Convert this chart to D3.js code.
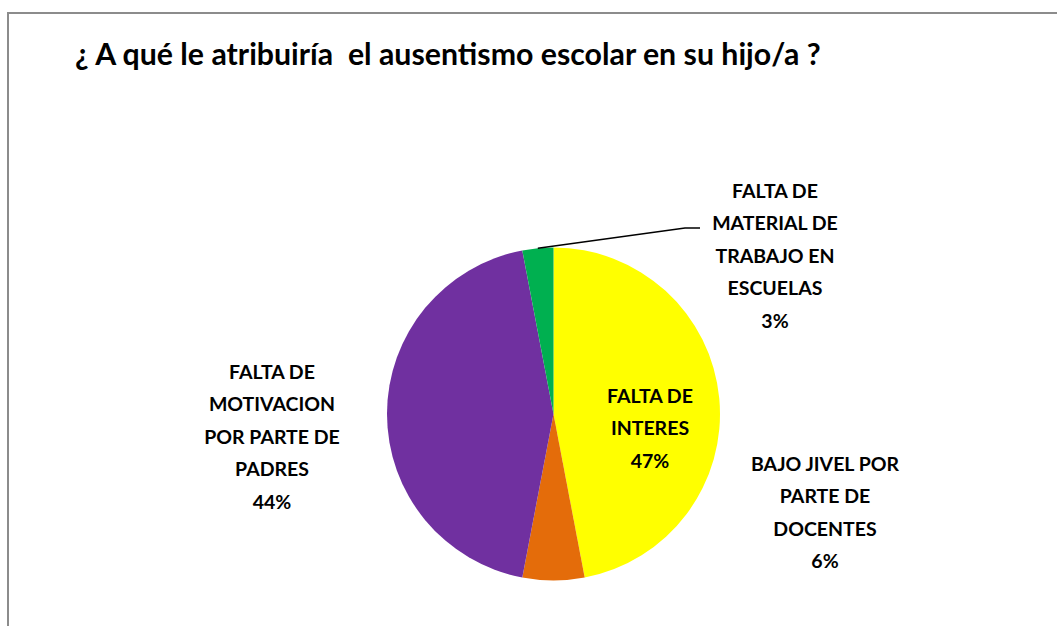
<!DOCTYPE html>
<html>
<head>
<meta charset="utf-8">
<script src="https://cdn.jsdelivr.net/npm/d3@7"></script>
<style>
  body { margin: 0; background: #fff; }
  text { font-family: Lato, "Liberation Sans", sans-serif; font-weight: bold; fill: #000; }
</style>
</head>
<body>
<svg id="chart" width="1057" height="626"></svg>
<script>
// data
const title = '¿ A qué le atribuiría  el ausentismo escolar en su hijo/a ?';
const categories = [
    ['FALTA DE', 'INTERES'],
    ['BAJO JIVEL POR', 'PARTE DE', 'DOCENTES'],
    ['FALTA DE', 'MOTIVACION', 'POR PARTE DE', 'PADRES'],
    ['FALTA DE', 'MATERIAL DE', 'TRABAJO EN', 'ESCUELAS']
];
const values = [47, 6, 44, 3];
const colors = ['#FFFF00', '#E46C0A', '#7030A0', '#00B050'];

// layout
const cx = 553.5;
const cy = 414;
const radius = 166.5;
const lineH = 32.5;
// label block centres (x, y of first line)
const labelPos = [[650, 396], [825, 464], [272, 372], [775, 191]];

const svg = d3.select('#chart');

// chart frame (runs off the right / bottom edge)
svg.append('rect')
    .attr('x', 8)
    .attr('y', 13)
    .attr('width', 1100)
    .attr('height', 700)
    .attr('fill', 'none')
    .attr('stroke', '#8c8c8c')
    .attr('stroke-width', 2);

svg.append('text')
    .attr('x', 75)
    .attr('y', 65)
    .style('font-size', '30.3px')
    .style('white-space', 'pre')
    .text(title);

const pie = d3.pie().sort(null).value((d) => d);
const arc = d3.arc().innerRadius(0).outerRadius(radius);
const arcs = pie(values);

const g = svg.append('g').attr('transform', `translate(${cx},${cy})`);
g.selectAll('path')
    .data(arcs)
    .enter()
    .append('path')
    .attr('d', arc)
    .attr('fill', (d, i) => colors[i]);

// leader line for the small green slice
const green = arcs[3];
const mid = (green.startAngle + green.endAngle) / 2;
const p0 = [cx + radius * Math.sin(mid), cy - radius * Math.cos(mid)];
svg.append('polyline')
    .attr('points', [p0, [685, 228], [700, 228]].map((p) => p.join(',')).join(' '))
    .attr('fill', 'none')
    .attr('stroke', '#000')
    .attr('stroke-width', 1.5);

// labels
const labels = svg.selectAll('.lbl')
    .data(arcs)
    .enter()
    .append('text')
    .attr('class', 'lbl')
    .attr('text-anchor', 'middle')
    .style('font-size', '19.5px');

labels.each(function (d, i) {
    const lines = categories[i].concat([`${d.data}%`]);
    const [lx, ly] = labelPos[i];
    d3.select(this)
        .selectAll('tspan')
        .data(lines)
        .enter()
        .append('tspan')
        .attr('x', lx)
        .attr('y', (s, k) => ly + k * lineH)
        .attr('dy', '0.35em')
        .text((s) => s);
});
</script>
</body>
</html>
